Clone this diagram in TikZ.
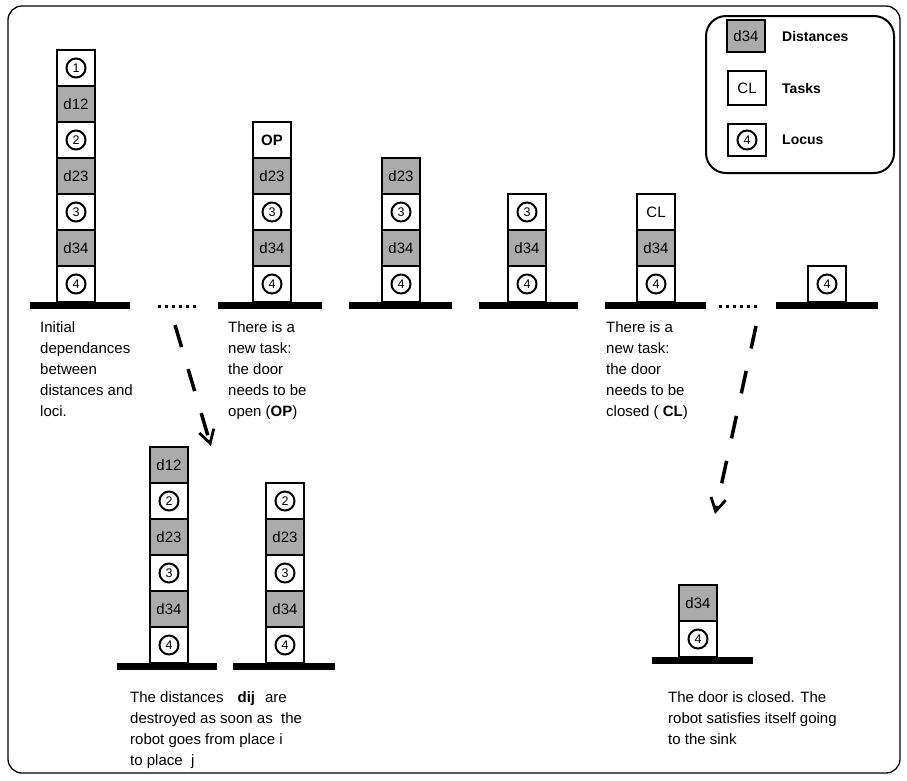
\documentclass[tikz,border=0pt]{standalone}
\usepackage{fontspec}
\setmainfont{Liberation Sans}
\usetikzlibrary{arrows.meta}
\begin{document}
\begin{tikzpicture}[x=1pt,y=-1pt,
  box/.style={draw, line width=1.9pt, minimum width=38pt, minimum height=36pt, inner sep=0pt, fill=white},
  dbox/.style={box, fill=black!33, font=\fontsize{15}{15}\selectfont},
  tbox/.style={box, font=\bfseries\fontsize{15}{15}\selectfont},
  lbox/.style={box, font=\fontsize{12.5}{12.5}\selectfont, path picture={\draw[line width=2pt] (path picture bounding box.center) circle[radius=9.5pt];}},
  txt/.style={anchor=north west, inner sep=0pt, align=left, font=\fontsize{15}{21}\selectfont},
  leg/.style={anchor=west, inner sep=0pt, font=\bfseries\fontsize{14}{14}\selectfont},
  darr/.style={line width=3.5pt, dash pattern=on 23pt off 23pt, -{Straight Barb[length=13pt,width=15pt,line width=2.8pt]}},
  dotline/.style={line width=3pt, dash pattern=on 3pt off 4pt}
]
\useasboundingbox (0,0) rectangle (907,780);
% frames
\draw[line width=1.3pt, rounded corners=14pt] (8,6) rectangle (900,773);
\draw[line width=2pt, rounded corners=20pt] (706,16) rectangle (894,173);
% legend
\node[dbox, minimum height=32pt] (ld) at (746,36) {d34};
\node[leg] (ldl) at (782,36) {Distances};
\node[box, font=\fontsize{15}{15}\selectfont, minimum height=34pt] (lt) at (747,88) {CL};
\node[leg] (ltl) at (782,88) {Tasks};
\node[lbox, minimum height=32pt] (ll) at (747,140) {4};
\node[leg] (lll) at (782,140) {Locus};
% stack 1
\node[lbox] (s1a) at (76,68) {1};
\node[dbox] (s1b) at (76,104) {d12};
\node[lbox] (s1c) at (76,140) {2};
\node[dbox] (s1d) at (76,176) {d23};
\node[lbox] (s1e) at (76,212) {3};
\node[dbox] (s1f) at (76,248) {d34};
\node[lbox] (s1g) at (76,284) {4};
\fill (30,302) rectangle (130,309);
\draw[dotline] (158,306) -- (198,306);
% stack 2
\node[tbox] (s2a) at (272,140) {OP};
\node[dbox] (s2b) at (272,176) {d23};
\node[lbox] (s2c) at (272,212) {3};
\node[dbox] (s2d) at (272,248) {d34};
\node[lbox] (s2e) at (272,284) {4};
\fill (218,302) rectangle (322,309);
% stack 3
\node[dbox] (s3a) at (401,176) {d23};
\node[lbox] (s3b) at (401,212) {3};
\node[dbox] (s3c) at (401,248) {d34};
\node[lbox] (s3d) at (401,284) {4};
\fill (349,302) rectangle (452,309);
% stack 4
\node[lbox] (s4a) at (527,212) {3};
\node[dbox] (s4b) at (527,248) {d34};
\node[lbox] (s4c) at (527,284) {4};
\fill (479,302) rectangle (578,309);
% stack 5
\node[box, font=\fontsize{15}{15}\selectfont] (s5a) at (656,212) {CL};
\node[dbox] (s5b) at (656,248) {d34};
\node[lbox] (s5c) at (656,284) {4};
\fill (605,302) rectangle (706,309);
\draw[dotline] (719,306) -- (759,306);
% stack 6
\node[lbox] (s6a) at (827,284) {4};
\fill (776,302) rectangle (878,309);
% bottom stack 1
\node[dbox] (b1a) at (169,465) {d12};
\node[lbox] (b1b) at (169,501) {2};
\node[dbox] (b1c) at (169,537) {d23};
\node[lbox] (b1d) at (169,573) {3};
\node[dbox] (b1e) at (169,609) {d34};
\node[lbox] (b1f) at (169,645) {4};
\fill (117,663) rectangle (217,670);
% bottom stack 2
\node[lbox] (b2a) at (285,501) {2};
\node[dbox] (b2b) at (285,537) {d23};
\node[lbox] (b2c) at (285,573) {3};
\node[dbox] (b2d) at (285,609) {d34};
\node[lbox] (b2e) at (285,645) {4};
\fill (233,663) rectangle (335,670);
% bottom stack 3
\node[dbox] (b3a) at (698,603) {d34};
\node[lbox] (b3b) at (698,639) {4};
\fill (652,657) rectangle (753,664);
% arrows
\coordinate (a1s) at (175,325);
\coordinate (a1e) at (211,446);
\draw[darr] (a1s) -- (a1e);
\coordinate (a2s) at (756,326);
\coordinate (a2e) at (715,514);
\draw[darr] (a2s) -- (a2e);
% texts
\node[txt] (t1) at (40,321) {Initial\\dependances\\between\\distances and\\loci.};
\node[txt] (t2) at (228,321) {There is a\\new task:\\the door\\needs to be\\open (\textbf{OP})};
\node[txt] (t3) at (606,321) {There is a\\new task:\\the door\\needs to be\\closed ( \textbf{CL})};
\node[txt] (t4) at (130,691) {The distances\hspace{14pt}\textbf{dij}\hspace{10pt}are\\destroyed as soon as\ \ the\\robot goes from place i\\to place\ \ j};
\node[txt] (t5) at (668,691) {The door is closed. The\\robot satisfies itself going\\to the sink};
\end{tikzpicture}
\end{document}
